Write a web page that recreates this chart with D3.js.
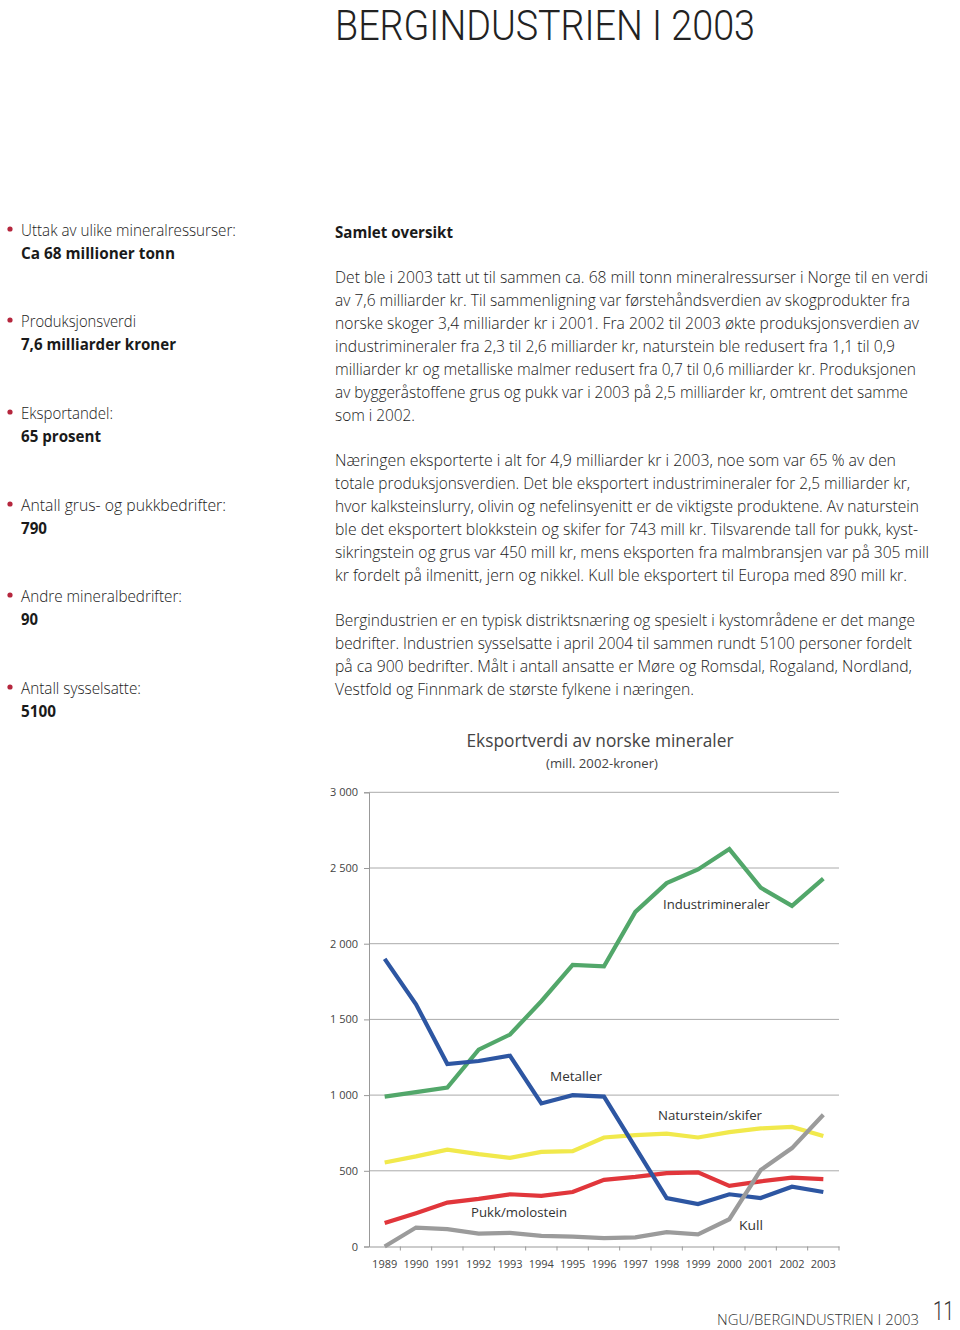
<!DOCTYPE html>
<html><head><meta charset="utf-8">
<script src="https://cdn.jsdelivr.net/npm/d3@7"></script>
<style>
html,body{margin:0;padding:0;background:#fff;}
svg{display:block;}
</style></head>
<body>
<svg id="page" width="960" height="1330"></svg>
<script>
// ---------- DATA ----------
const years = ["1989","1990","1991","1992","1993","1994","1995","1996","1997","1998","1999","2000","2001","2002","2003"];
const industrimineraler = [990,1020,1050,1300,1400,1620,1860,1850,2210,2400,2490,2625,2370,2250,2430];
const metaller          = [1900,1600,1205,1225,1260,945,1000,990,655,320,280,345,320,395,360];
const naturstein        = [555,595,640,610,585,625,630,720,735,745,720,755,780,790,730];
const pukk              = [155,220,290,315,345,335,360,440,460,485,490,400,430,455,445];
const kull              = [0,125,115,85,90,70,65,55,60,95,80,180,505,650,870];
const yTicks = [0,500,1000,1500,2000,2500,3000];
const yTickLabels = ["0","500","1 000","1 500","2 000","2 500","3 000"];

const seriesNames = ["Naturstein/skifer","Pukk/molostein","Industrimineraler","Metaller","Kull"];
const seriesValues = [naturstein, pukk, industrimineraler, metaller, kull];
const seriesColors = ["#f1e94c","#e1363b","#52a76a","#2d56a2","#9b9b9b"];

// ---------- PAGE TEXT ----------
const svg = d3.select("#page");
const bodyFont = "'Open Sans', 'Noto Sans', sans-serif";
const chartFont = "'Open Sans', 'Noto Sans', sans-serif";
const headFont = "Roboto, 'Open Sans', sans-serif";

svg.append("text").attr("x",335).attr("y",39.5)
  .attr("font-family",headFont).attr("font-weight",300).attr("font-size",42)
  .attr("fill","#222").attr("textLength",420).attr("lengthAdjust","spacingAndGlyphs")
  .text("BERGINDUSTRIEN I 2003");

// left column
const facts = [
  ["Uttak av ulike mineralressurser:","Ca 68 millioner tonn",231,215,154],
  ["Produksjonsverdi","7,6 milliarder kroner",322,115,155],
  ["Eksportandel:","65 prosent",414,92,80],
  ["Antall grus- og pukkbedrifter:","790",506,205,26],
  ["Andre mineralbedrifter:","90",597,161,17],
  ["Antall sysselsatte:","5100",689,120,35]
];
facts.forEach(f=>{
  svg.append("circle").attr("cx",10).attr("cy",f[2]-2).attr("r",2.6).attr("fill","#b5263d");
  svg.append("text").attr("x",21).attr("y",f[2]+5).attr("font-family",bodyFont).attr("font-weight",300)
    .attr("font-size",15.5).attr("fill","#1a1a1a").attr("textLength",f[3]).attr("lengthAdjust","spacingAndGlyphs").text(f[0]);
  svg.append("text").attr("x",21).attr("y",f[2]+28).attr("font-family",bodyFont).attr("font-weight",700)
    .attr("font-size",15.5).attr("fill","#1a1a1a").attr("textLength",f[4]).attr("lengthAdjust","spacingAndGlyphs").text(f[1]);
});

svg.append("text").attr("x",335).attr("y",238).attr("font-family",bodyFont).attr("font-weight",700)
  .attr("font-size",15.5).attr("fill","#1a1a1a").attr("textLength",118).attr("lengthAdjust","spacingAndGlyphs").text("Samlet oversikt");

const bodyLines = [
  ["Det ble i 2003 tatt ut til sammen ca. 68 mill tonn mineralressurser i Norge til en verdi",278,928],
  ["av 7,6 milliarder kr. Til sammenligning var førstehåndsverdien av skogprodukter fra",301,910],
  ["norske skoger 3,4 milliarder kr i 2001. Fra 2002 til 2003 økte produksjonsverdien av",324,919],
  ["industrimineraler fra 2,3 til 2,6 milliarder kr, naturstein ble redusert fra 1,1 til 0,9",347,895],
  ["milliarder kr og metalliske malmer redusert fra 0,7 til 0,6 milliarder kr. Produksjonen",370,916],
  ["av byggeråstoffene grus og pukk var i 2003 på 2,5 milliarder kr, omtrent det samme",393,908],
  ["som i 2002.",416,415],
  ["Næringen eksporterte i alt for 4,9 milliarder kr i 2003, noe som var 65 % av den",461,896],
  ["totale produksjonsverdien. Det ble eksportert industrimineraler for 2,5 milliarder kr,",484,910],
  ["hvor kalksteinslurry, olivin og nefelinsyenitt er de viktigste produktene. Av naturstein",507,919],
  ["ble det eksportert blokkstein og skifer for 743 mill kr. Tilsvarende tall for pukk, kyst-",530,918],
  ["sikringstein og grus var 450 mill kr, mens eksporten fra malmbransjen var på 305 mill",553,929],
  ["kr fordelt på ilmenitt, jern og nikkel. Kull ble eksportert til Europa med 890 mill kr.",576,907],
  ["Bergindustrien er en typisk distriktsnæring og spesielt i kystområdene er det mange",621,915],
  ["bedrifter. Industrien sysselsatte i april 2004 til sammen rundt 5100 personer fordelt",644,912],
  ["på ca 900 bedrifter. Målt i antall ansatte er Møre og Romsdal, Rogaland, Nordland,",667,912],
  ["Vestfold og Finnmark de største fylkene i næringen.",690,694]
];
bodyLines.forEach(l=>{
  svg.append("text").attr("x",335).attr("y",l[1]+5).attr("font-family",bodyFont).attr("font-weight",300)
    .attr("font-size",15.5).attr("fill","#1a1a1a").attr("textLength",l[2]-335).attr("lengthAdjust","spacingAndGlyphs").text(l[0]);
});

// footer
svg.append("text").attr("x",717).attr("y",1325).attr("font-family",bodyFont).attr("font-weight",300)
  .attr("font-size",15).attr("fill","#333").attr("textLength",202).attr("lengthAdjust","spacingAndGlyphs").text("NGU/BERGINDUSTRIEN I 2003");
svg.append("text").attr("x",933).attr("y",1320).attr("font-family",headFont).attr("font-weight",300)
  .attr("font-size",25).attr("fill","#333").attr("textLength",21).attr("lengthAdjust","spacingAndGlyphs").text("11");

// ---------- CHART ----------
svg.append("text").attr("x",600).attr("y",747).attr("text-anchor","middle").attr("font-family",chartFont)
  .attr("font-size",17.5).attr("fill","#444").attr("textLength",267).attr("lengthAdjust","spacingAndGlyphs")
  .text("Eksportverdi av norske mineraler");
svg.append("text").attr("x",602).attr("y",768).attr("text-anchor","middle").attr("font-family",chartFont)
  .attr("font-size",13).attr("fill","#444").attr("textLength",112).attr("lengthAdjust","spacingAndGlyphs")
  .text("(mill. 2002-kroner)");

const x = d3.scaleBand().domain(years).range([369,839]);
const y = d3.scaleLinear().domain([0,3000]).range([1246.5,792.3]);

// gridlines
const grid = svg.append("g");
grid.selectAll("line").data(yTicks.filter(d=>d>0)).join("line")
  .attr("x1",369).attr("x2",839).attr("y1",d=>y(d)).attr("y2",d=>y(d))
  .attr("stroke","#aaa").attr("stroke-width",1);

// y axis
const yAxis = d3.axisLeft(y).tickValues(yTicks).tickFormat((d,i)=>yTickLabels[i]).tickSize(5);
const gy = svg.append("g").attr("transform","translate(369,0)").call(yAxis);
gy.select(".domain").attr("stroke","#999");
gy.selectAll(".tick line").attr("stroke","#999");
gy.selectAll(".tick text").attr("font-family",chartFont).attr("font-size",11).attr("fill","#444").attr("x",-11);

// x axis
const xAxis = d3.axisBottom(x).tickSize(0).tickPadding(14);
const gx = svg.append("g").attr("transform","translate(0,"+y(0)+")").call(xAxis);
gx.select(".domain").attr("stroke","#999");
gx.selectAll(".tick text").attr("font-family",chartFont).attr("font-size",11).attr("fill","#444");
// band boundary ticks
gx.selectAll("line.bt").data(years).join("line").attr("class","bt")
  .attr("x1",d=>x(d)+x.bandwidth()).attr("x2",d=>x(d)+x.bandwidth()).attr("y1",0).attr("y2",4)
  .attr("stroke","#999");

// lines
const line = d3.line().x((d,i)=>x(years[i])+x.bandwidth()/2).y(d=>y(d));
svg.append("g").selectAll("path").data(seriesValues).join("path")
  .attr("d",d=>line(d)).attr("fill","none")
  .attr("stroke",(d,i)=>seriesColors[i]).attr("stroke-width",4.2)
  .attr("stroke-linejoin","miter");

// series labels
const labels = [
  ["Industrimineraler",663,909,107],
  ["Metaller",550,1081,52],
  ["Naturstein/skifer",658,1120,104],
  ["Pukk/molostein",471,1217,96],
  ["Kull",739,1230,24]
];
labels.forEach(l=>{
  svg.append("text").attr("x",l[1]).attr("y",l[2]).attr("font-family",chartFont).attr("font-size",13.5)
    .attr("fill","#333").attr("textLength",l[3]).attr("lengthAdjust","spacingAndGlyphs").text(l[0]);
});
</script>
</body></html>
